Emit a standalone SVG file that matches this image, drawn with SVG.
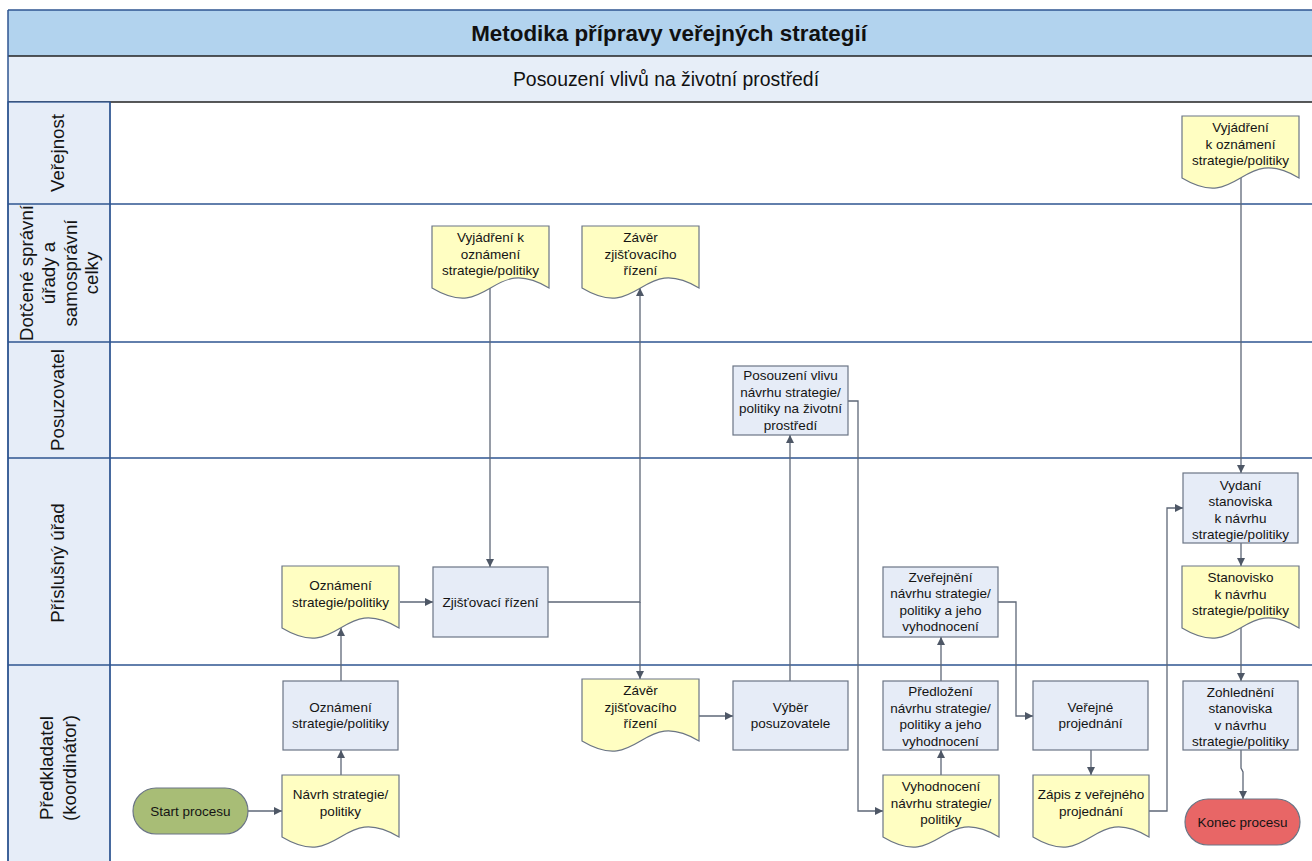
<svg xmlns="http://www.w3.org/2000/svg" width="1312" height="861" viewBox="0 0 1312 861">
<defs>
<style>
.txt{font-family:"Liberation Sans",Arial,sans-serif;font-size:13.5px;fill:#141414;text-anchor:middle}
.lanetxt{font-family:"Liberation Sans",Arial,sans-serif;font-size:18.7px;fill:#141414;text-anchor:middle}
.proc{fill:#E6ECF7;stroke:#6B7585;stroke-width:1.2}
.doc{fill:#FFFEC2;stroke:#6B7585;stroke-width:1.2}
.hdr{fill:#E6EDF8;stroke:#2E5591;stroke-width:1.3}
.laneline{stroke:#2E5591;stroke-width:1.3;fill:none}
.conn path{fill:none;stroke:#5E6777;stroke-width:1.3;marker-end:url(#arr)}
</style>
<marker id="arr" markerUnits="userSpaceOnUse" markerWidth="10" markerHeight="10" refX="8" refY="4" orient="auto">
<path d="M0,0 L8,4 L0,8 Z" fill="#4E5766"/>
</marker>
</defs>
<rect width="1312" height="861" fill="#ffffff"/>
<g id="frame">
<rect x="8" y="10" width="1340" height="46" fill="#B2D3EE" stroke="none"/>
<line x1="8" y1="10" x2="1340" y2="10" stroke="#2E5591" stroke-width="1.5"/>
<rect x="8" y="56" width="1340" height="46" fill="#E7EEF8" stroke="none"/>
<line x1="8" y1="56" x2="1340" y2="56" stroke="#222" stroke-width="1.5"/>
<line x1="8" y1="102" x2="1340" y2="102" stroke="#222" stroke-width="1.5"/>
<rect x="8" y="102" width="102" height="770" class="hdr"/>
<line x1="8" y1="10" x2="8" y2="861" stroke="#2E5591" stroke-width="1.5"/>
<line x1="110" y1="102" x2="110" y2="861" class="laneline"/>
<line x1="8" y1="204" x2="1340" y2="204" class="laneline"/>
<line x1="8" y1="342" x2="1340" y2="342" class="laneline"/>
<line x1="8" y1="458" x2="1340" y2="458" class="laneline"/>
<line x1="8" y1="665" x2="1340" y2="665" class="laneline"/>
<text x="669" y="41" font-family="Liberation Sans, Arial, sans-serif" font-size="22.4px" font-weight="bold" fill="#111" text-anchor="middle">Metodika přípravy veřejných strategií</text>
<text x="666" y="86" font-family="Liberation Sans, Arial, sans-serif" font-size="19.4px" fill="#111" text-anchor="middle">Posouzení vlivů na životní prostředí</text>
</g>
<g id="lane-labels">
<g id="lane-verejnost" transform="translate(59,153) rotate(-90)"><text class="lanetxt" x="0" y="5">Veřejnost</text></g>
<g id="lane-dotcene" transform="translate(59,273) rotate(-90)"><text class="lanetxt" x="0"><tspan x="0" y="-26">Dotčené správní</tspan><tspan x="0" y="-4.2">úřady a</tspan><tspan x="0" y="17.6">samosprávní</tspan><tspan x="0" y="39.4">celky</tspan></text></g>
<g id="lane-posuzovatel" transform="translate(59,400) rotate(-90)"><text class="lanetxt" x="0" y="5">Posuzovatel</text></g>
<g id="lane-prislusny" transform="translate(59,563) rotate(-90)"><text class="lanetxt" x="0" y="5">Příslušný úřad</text></g>
<g id="lane-predkladatel" transform="translate(59,768) rotate(-90)"><text class="lanetxt" x="0"><tspan x="0" y="-6">Předkladatel</tspan><tspan x="0" y="16.5">(koordinátor)</tspan></text></g>
</g>
<g id="connectors" class="conn">
<path d="M248,811 H282"/>
<path d="M341,775 V750"/>
<path d="M341,681 V628"/>
<path d="M400,602 H433"/>
<path d="M490,288 V567"/>
<path d="M548,602 H640 V288"/>
<path d="M640,602 V679"/>
<path d="M699,716 H733"/>
<path d="M790,681 V435"/>
<path d="M848,401 H858 V811 H883"/>
<path d="M941,775 V750"/>
<path d="M941,681 V637"/>
<path d="M998,602 H1016 V716 H1033"/>
<path d="M1091,750 V775"/>
<path d="M1149,811 H1167 V508 H1183"/>
<path d="M1241,178 V473"/>
<path d="M1241,543 V566"/>
<path d="M1241,628 V681"/>
<path d="M1241,750 V768 L1243,772 V799"/>
</g>
<g id="start">
<rect x="133" y="788" width="115" height="46" rx="23" fill="#A8BD76" stroke="#6B7585" stroke-width="1.2"/>
<text class="txt" x="190.5" y="815.5">Start procesu</text>
</g>
<g id="navrh-doc">
<path class="doc" d="M282,775 H399 V837 C340.5,802 340.5,872 282,837 Z"/>
<text class="txt"><tspan x="340.5" y="799.25">Návrh strategie/</tspan><tspan x="340.5" y="815.75">politiky</tspan></text>
</g>
<g id="oznameni-proc">
<rect class="proc" x="283" y="681" width="115" height="69"/>
<text class="txt"><tspan x="340.5" y="711.75">Oznámení</tspan><tspan x="340.5" y="728.25">strategie/politiky</tspan></text>
</g>
<g id="oznameni-doc">
<path class="doc" d="M282,566 H399 V628 C340.5,593 340.5,663 282,628 Z"/>
<text class="txt"><tspan x="340.5" y="590.25">Oznámení</tspan><tspan x="340.5" y="606.75">strategie/politiky</tspan></text>
</g>
<g id="zjistovaci">
<rect class="proc" x="433" y="567" width="115" height="70"/>
<text class="txt" x="490.5" y="606.5">Zjišťovací řízení</text>
</g>
<g id="vyjadreni-dotcene">
<path class="doc" d="M432,226 H549 V288 C490.5,253 490.5,323 432,288 Z"/>
<text class="txt"><tspan x="490.5" y="242">Vyjádření k</tspan><tspan x="490.5" y="258.5">oznámení</tspan><tspan x="490.5" y="275">strategie/politiky</tspan></text>
</g>
<g id="zaver-dotcene">
<path class="doc" d="M582,226 H699 V288 C640.5,253 640.5,323 582,288 Z"/>
<text class="txt"><tspan x="640.5" y="242">Závěr</tspan><tspan x="640.5" y="258.5">zjišťovacího</tspan><tspan x="640.5" y="275">řízení</tspan></text>
</g>
<g id="zaver-predkladatel">
<path class="doc" d="M582,679 H699 V741 C640.5,706 640.5,776 582,741 Z"/>
<text class="txt"><tspan x="640.5" y="695">Závěr</tspan><tspan x="640.5" y="711.5">zjišťovacího</tspan><tspan x="640.5" y="728">řízení</tspan></text>
</g>
<g id="vyber">
<rect class="proc" x="733" y="681" width="115" height="69"/>
<text class="txt"><tspan x="790.5" y="711.75">Výběr</tspan><tspan x="790.5" y="728.25">posuzovatele</tspan></text>
</g>
<g id="posouzeni">
<rect class="proc" x="733" y="366" width="115" height="69"/>
<text class="txt"><tspan x="790.5" y="380.25">Posouzení vlivu</tspan><tspan x="790.5" y="396.75">návrhu strategie/</tspan><tspan x="790.5" y="413.25">politiky na životní</tspan><tspan x="790.5" y="429.75">prostředí</tspan></text>
</g>
<g id="vyhodnoceni-doc">
<path class="doc" d="M883,775 H999 V837 C941,802 941,872 883,837 Z"/>
<text class="txt"><tspan x="941" y="791">Vyhodnocení</tspan><tspan x="941" y="807.5">návrhu strategie/</tspan><tspan x="941" y="824">politiky</tspan></text>
</g>
<g id="predlozeni">
<rect class="proc" x="883" y="681" width="115" height="69"/>
<text class="txt"><tspan x="940.5" y="696.25">Předložení</tspan><tspan x="940.5" y="712.75">návrhu strategie/</tspan><tspan x="940.5" y="729.25">politiky a jeho</tspan><tspan x="940.5" y="745.75">vyhodnocení</tspan></text>
</g>
<g id="zverejneni">
<rect class="proc" x="883" y="567" width="115" height="70"/>
<text class="txt"><tspan x="940.5" y="581.75">Zveřejnění</tspan><tspan x="940.5" y="598.25">návrhu strategie/</tspan><tspan x="940.5" y="614.75">politiky a jeho</tspan><tspan x="940.5" y="631.25">vyhodnocení</tspan></text>
</g>
<g id="verejne-projednani">
<rect class="proc" x="1033" y="681" width="115" height="69"/>
<text class="txt"><tspan x="1090.5" y="711.75">Veřejné</tspan><tspan x="1090.5" y="728.25">projednání</tspan></text>
</g>
<g id="zapis-doc">
<path class="doc" d="M1033,775 H1149 V837 C1091,802 1091,872 1033,837 Z"/>
<text class="txt"><tspan x="1091" y="799.25">Zápis z veřejného</tspan><tspan x="1091" y="815.75">projednání</tspan></text>
</g>
<g id="vyjadreni-verejnost">
<path class="doc" d="M1182,116 H1299 V178 C1240.5,143 1240.5,213 1182,178 Z"/>
<text class="txt"><tspan x="1240.5" y="132">Vyjádření</tspan><tspan x="1240.5" y="148.5">k oznámení</tspan><tspan x="1240.5" y="165">strategie/politiky</tspan></text>
</g>
<g id="vydani">
<rect class="proc" x="1183" y="473" width="115" height="70"/>
<text class="txt"><tspan x="1240.5" y="489.75">Vydaní</tspan><tspan x="1240.5" y="506.25">stanoviska</tspan><tspan x="1240.5" y="522.75">k návrhu</tspan><tspan x="1240.5" y="539.25">strategie/politiky</tspan></text>
</g>
<g id="stanovisko-doc">
<path class="doc" d="M1182,566 H1299 V628 C1240.5,593 1240.5,663 1182,628 Z"/>
<text class="txt"><tspan x="1240.5" y="582">Stanovisko</tspan><tspan x="1240.5" y="598.5">k návrhu</tspan><tspan x="1240.5" y="615">strategie/politiky</tspan></text>
</g>
<g id="zohledneni">
<rect class="proc" x="1183" y="681" width="115" height="69"/>
<text class="txt"><tspan x="1240.5" y="696.75">Zohlednění</tspan><tspan x="1240.5" y="713.25">stanoviska</tspan><tspan x="1240.5" y="729.75">v návrhu</tspan><tspan x="1240.5" y="746.25">strategie/politiky</tspan></text>
</g>
<g id="konec">
<rect x="1185" y="799" width="115" height="46" rx="23" fill="#E86666" stroke="#6B7585" stroke-width="1.2"/>
<text class="txt" x="1242.5" y="826.5">Konec procesu</text>
</g>
</svg>
